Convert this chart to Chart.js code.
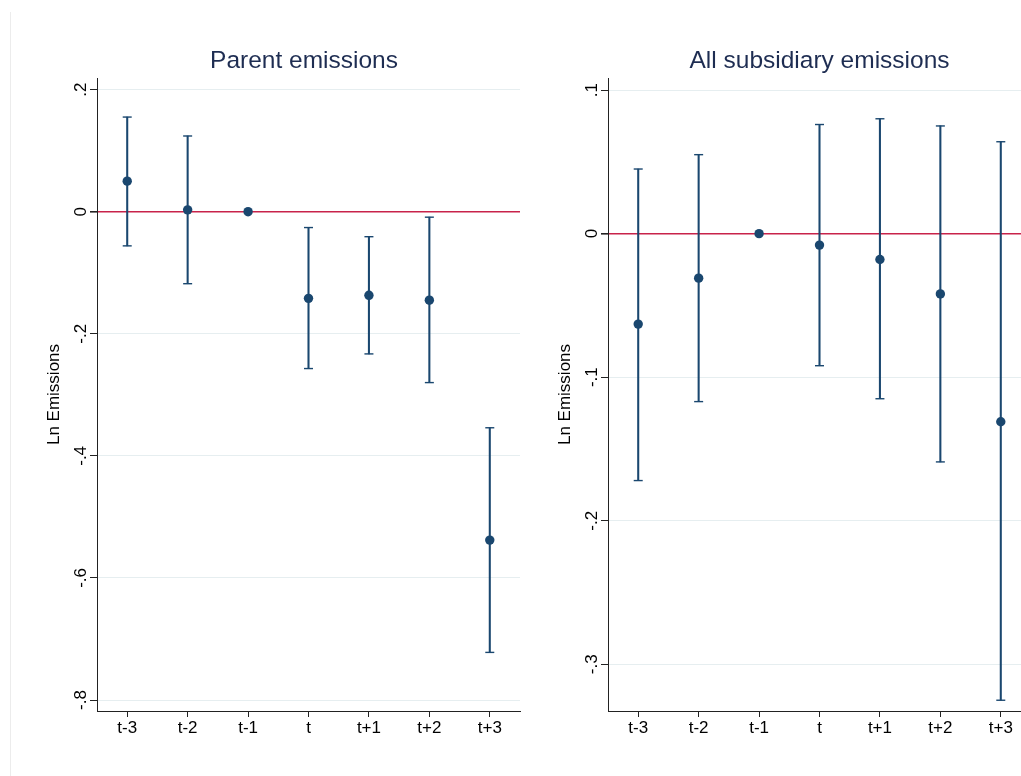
<!DOCTYPE html>
<html>
<head>
<meta charset="utf-8">
<script src="https://cdn.jsdelivr.net/npm/chart.js@4/dist/chart.umd.min.js"></script>
<style>
  html, body { margin: 0; padding: 0; background: #fff; overflow: hidden; }
  body { width: 1021px; height: 776px; position: relative; }
  .panel { position: absolute; top: 0; }
  #edge { position: absolute; left: 10px; top: 12px; width: 1px; height: 764px; background: #ececec; }
</style>
</head>
<body>
<div id="edge"></div>
<canvas id="parentChart" class="panel" width="530" height="776" style="left:0"></canvas>
<canvas id="subsChart" class="panel" width="530" height="776" style="left:511px"></canvas>
<script>
// event-time labels
const periods = ['t-3', 't-2', 't-1', 't', 't+1', 't+2', 't+3'];

// Parent emissions: point estimates and 95% CI bounds
const parentCoef = [0.050, 0.003, 0, -0.142, -0.137, -0.145, -0.538];
const parentLo = [-0.056, -0.118, null, -0.257, -0.233, -0.280, -0.722];
const parentHi = [0.155, 0.124, null, -0.026, -0.041, -0.009, -0.354];
const parentTicks = [-0.8, -0.6, -0.4, -0.2, 0, 0.2];
const parentTickLabels = ['-.8', '-.6', '-.4', '-.2', '0', '.2'];

// All subsidiary emissions
const subsCoef = [-0.063, -0.031, 0, -0.008, -0.018, -0.042, -0.131];
const subsLo = [-0.172, -0.117, null, -0.092, -0.115, -0.159, -0.325];
const subsHi = [0.045, 0.055, null, 0.076, 0.080, 0.075, 0.064];
const subsTicks = [-0.3, -0.2, -0.1, 0, 0.1];
const subsTickLabels = ['-.3', '-.2', '-.1', '0', '.1'];

const navy = '#1a476f';
const zeroRed = '#c8234a';
const gridColor = '#e6eef0';
const axisColor = '#222';
const fontFamily = '"Liberation Sans", Arial, sans-serif';

// draws the panel title centred over the plot area
const panelTitle = {
    id: 'panelTitle',
    afterDraw(chart, args, opts) {
        const ctx = chart.ctx;
        const ca = chart.chartArea;
        ctx.save();
        ctx.font = '24.5px ' + fontFamily;
        ctx.fillStyle = '#1e2d52';
        ctx.textAlign = 'center';
        ctx.textBaseline = 'alphabetic';
        ctx.fillText(opts.text, (ca.left + ca.right) / 2 + (opts.dx || 0), 67.5);
        ctx.restore();
    }
};

function makeChart(el, title, dx, coef, lo, hi, ticks, tickLabels, yMin, yMax) {
    const config = {
        type: 'bar',
        data: {
            labels: periods,
            datasets: [
                {
                    type: 'line',
                    data: coef,
                    showLine: false,
                    pointStyle: 'circle',
                    pointRadius: 4.7,
                    pointBackgroundColor: navy,
                    pointBorderColor: navy,
                    pointBorderWidth: 0
                },
                {
                    type: 'line',
                    data: hi,
                    showLine: false,
                    pointStyle: 'line',
                    pointRadius: 4.5,
                    pointBorderColor: navy,
                    pointBorderWidth: 1.4
                },
                {
                    type: 'line',
                    data: lo,
                    showLine: false,
                    pointStyle: 'line',
                    pointRadius: 4.5,
                    pointBorderColor: navy,
                    pointBorderWidth: 1.4
                },
                {
                    type: 'bar',
                    data: lo.map((l, i) => (l === null ? null : [l, hi[i]])),
                    backgroundColor: navy,
                    barThickness: 1.4,
                    borderWidth: 0
                }
            ]
        },
        options: {
            responsive: false,
            animation: false,
            devicePixelRatio: 1,
            layout: { padding: { top: 78, right: 10, left: 0, bottom: 0 } },
            plugins: {
                legend: { display: false },
                tooltip: { enabled: false },
                panelTitle: { text: title, dx: dx }
            },
            scales: {
                x: {
                    type: 'category',
                    offset: true,
                    grid: {
                        offset: false,
                        drawOnChartArea: false,
                        drawTicks: true,
                        tickLength: 6,
                        tickColor: axisColor
                    },
                    border: { display: true, color: axisColor, width: 1 },
                    ticks: {
                        color: '#000',
                        padding: 1,
                        maxRotation: 0,
                        font: { family: fontFamily, size: 17 }
                    },
                    afterFit: s => { s.height = 65; }
                },
                y: {
                    type: 'linear',
                    min: yMin,
                    max: yMax,
                    afterBuildTicks: s => { s.ticks = ticks.map(v => ({ value: v })); },
                    grid: {
                        color: c => (c.tick && c.tick.value === 0 ? zeroRed : gridColor),
                        lineWidth: c => (c.tick && c.tick.value === 0 ? 1.6 : 1),
                        tickLength: 7,
                        tickColor: axisColor
                    },
                    border: { display: true, color: axisColor, width: 1 },
                    ticks: {
                        color: '#000',
                        minRotation: 90,
                        maxRotation: 90,
                        crossAlign: 'center',
                        padding: -1,
                        font: { family: fontFamily, size: 17 },
                        callback: (v, i) => tickLabels[ticks.indexOf(v)]
                    },
                    title: {
                        display: true,
                        text: 'Ln Emissions',
                        color: '#000',
                        font: { family: fontFamily, size: 17 },
                        padding: { top: 44, bottom: 0 }
                    },
                    afterFit: s => { s.width = 97; }
                }
            }
        },
        plugins: [panelTitle]
    };
    return new Chart(el, config);
}

window.parentChart = makeChart(document.getElementById('parentChart'), 'Parent emissions', -4.5,
    parentCoef, parentLo, parentHi, parentTicks, parentTickLabels, -0.818, 0.219);
window.subsChart = makeChart(document.getElementById('subsChart'), 'All subsidiary emissions', 0,
    subsCoef, subsLo, subsHi, subsTicks, subsTickLabels, -0.3325, 0.1084);
</script>
</body>
</html>
